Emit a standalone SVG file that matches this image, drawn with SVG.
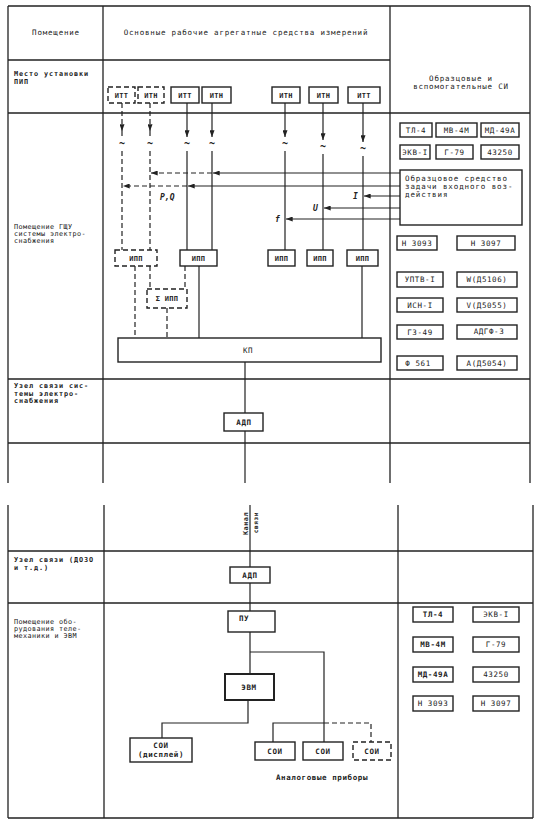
<svg xmlns="http://www.w3.org/2000/svg" width="540" height="826" viewBox="0 0 540 826">
<style>
.tb{stroke:#222;stroke-width:1.3;fill:none}
.ln{stroke:#222;stroke-width:1.2;fill:none}
.dl{stroke:#222;stroke-width:1.2;fill:none;stroke-dasharray:5 3}
.bx{fill:#fff;stroke:#222;stroke-width:1.4}
.bxb{fill:#fff;stroke:#222;stroke-width:2}
.dbx{fill:#fff;stroke:#222;stroke-width:1.4;stroke-dasharray:5 3}
text{font-family:"DejaVu Sans Mono","Liberation Mono",monospace;fill:#222}
.h{font-size:7.5px;letter-spacing:0.8px}
.lb{font-size:6.8px;letter-spacing:0.9px;font-weight:bold}
.lr{font-size:6.8px;letter-spacing:0.4px}
.bt{font-size:7px;letter-spacing:0.3px;text-anchor:middle;font-weight:bold}
.rt{font-size:7.5px;letter-spacing:0.6px;text-anchor:middle}
.c{text-anchor:middle}
.it{font-size:8px;font-style:italic;font-weight:bold}
.tl{font-size:10px;font-weight:bold;text-anchor:middle}
</style>
<defs>
<marker id="ah" viewBox="0 0 8 6" refX="8" refY="3" markerWidth="7" markerHeight="5" markerUnits="userSpaceOnUse" orient="auto">
<path d="M0,0 L8,3 L0,6 z" fill="#222"/>
</marker>
</defs>
<rect width="540" height="826" fill="#fff"/>

<g id="table">
<path class="tb" d="M8,6 H530 M8,6 V483 M103,6 V483 M390,6 V483 M530,6 V483 M8,60 H390 M8,113 H530 M8,379 H530 M8,443 H530"/>
<path class="tb" d="M8,505 V818 M104,505 V818 M398,505 V818 M533,505 V818 M8,551 H533 M8,603 H533 M8,818 H533"/>
<text class="h c" x="56" y="35">Помещение</text>
<text class="h c" x="246" y="35">Основные рабочие агрегатные средства измерений</text>
<text class="h c" x="461" y="81">Образцовые и</text>
<text class="h c" x="461" y="89">вспомогательные СИ</text>
<text class="lb" x="14" y="76">Место установки</text>
<text class="lb" x="14" y="83.5">ПИП</text>
<text class="lr" x="14" y="229">Помещение ГЩУ</text>
<text class="lr" x="14" y="236">системы электро-</text>
<text class="lr" x="14" y="243">снабжения</text>
<text class="lb" x="14" y="388">Узел связи сис-</text>
<text class="lb" x="14" y="395.5">темы электро-</text>
<text class="lb" x="14" y="403">снабжения</text>
<text class="lb" x="14" y="562">Узел связи (ДОЗО</text>
<text class="lb" x="14" y="569.5">и т.д.)</text>
<text class="lr" x="14" y="624">Помещение обо-</text>
<text class="lr" x="14" y="631">рудования теле-</text>
<text class="lr" x="14" y="638">механики и ЭВМ</text>
</g>

<g id="connectors">
<path class="dl" d="M122,103 V131" marker-end="url(#ah)"/>
<path class="dl" d="M150,103 V131" marker-end="url(#ah)"/>
<path class="ln" d="M187,103 V137" marker-end="url(#ah)"/>
<path class="ln" d="M212,103 V137" marker-end="url(#ah)"/>
<path class="ln" d="M285,103 V137" marker-end="url(#ah)"/>
<path class="ln" d="M323,103 V140" marker-end="url(#ah)"/>
<path class="ln" d="M363,103 V142" marker-end="url(#ah)"/>
<path class="dl" d="M122,131 V137 M150,131 V137"/>
<text class="tl" x="122" y="147">~</text>
<text class="tl" x="150" y="147">~</text>
<text class="tl" x="187" y="147">~</text>
<text class="tl" x="212" y="147">~</text>
<text class="tl" x="285" y="147">~</text>
<text class="tl" x="323" y="150">~</text>
<text class="tl" x="363" y="152">~</text>
<path class="dl" d="M122,151 V250 M150,151 V250"/>
<path class="ln" d="M187,151 V250 M212,151 V250 M285,151 V250 M323,154 V250 M363,156 V250"/>
<path class="ln" d="M400,173 H213" marker-end="url(#ah)"/>
<path class="dl" d="M212,173 H151" marker-end="url(#ah)"/>
<path class="ln" d="M400,186 H188" marker-end="url(#ah)"/>
<path class="dl" d="M187,186 H123" marker-end="url(#ah)"/>
<path class="ln" d="M400,196 H364" marker-end="url(#ah)"/>
<path class="ln" d="M400,208 H324" marker-end="url(#ah)"/>
<path class="ln" d="M400,219 H286" marker-end="url(#ah)"/>
<text class="it" x="160" y="200">P,Q</text>
<text class="it" x="353" y="199">I</text>
<text class="it" x="313" y="211">U</text>
<text class="it" x="275" y="222">f</text>
<path class="dl" d="M135,266 V338 M150,266 V289 M185,266 V289 M167,308 V338"/>
<path class="ln" d="M199,266 V338 M362,266 V338"/>
<path class="ln" d="M245,362 V413 M245,431 V483"/>
<path class="ln" d="M250,505 V567 M250,583 V611 M250,632 V674"/>
<path class="ln" d="M250,652 H324 V742 M273,742 V723 H324"/>
<path class="dl" d="M324,723 H371 V742"/>
<path class="ln" d="M248,700 V723 H162 V738"/>
<text class="lb" transform="translate(247.5,512) rotate(-90)" text-anchor="end" style="letter-spacing:0.5px">Канал</text>
<text class="lb" transform="translate(258,512) rotate(-90)" text-anchor="end" style="font-size:6.2px;letter-spacing:0.5px">связи</text>
</g>

<g id="n-itt1"><rect class="dbx" x="108" y="87" width="27" height="16"/><text class="bt" x="121.5" y="98">ИТТ</text></g>
<g id="n-itn1"><rect class="dbx" x="138" y="87" width="26" height="16"/><text class="bt" x="151" y="98">ИТН</text></g>
<g id="n-itt2"><rect class="bx" x="171" y="87" width="28" height="16"/><text class="bt" x="185" y="98">ИТТ</text></g>
<g id="n-itn2"><rect class="bx" x="202" y="87" width="29" height="16"/><text class="bt" x="216.5" y="98">ИТН</text></g>
<g id="n-itn3"><rect class="bx" x="272" y="87" width="28" height="16"/><text class="bt" x="286" y="98">ИТН</text></g>
<g id="n-itn4"><rect class="bx" x="309" y="87" width="29" height="16"/><text class="bt" x="323.5" y="98">ИТН</text></g>
<g id="n-itt3"><rect class="bx" x="348" y="87" width="32" height="16"/><text class="bt" x="364" y="98">ИТТ</text></g>

<g id="n-src"><rect class="bx" x="400" y="170" width="122" height="55"/>
<text class="h" x="405" y="181" style="letter-spacing:0.9px">Образцовое средство</text>
<text class="h" x="405" y="189" style="letter-spacing:0.9px">задачи входного воз-</text>
<text class="h" x="405" y="197" style="letter-spacing:0.9px">действия</text></g>

<g id="n-ipp1"><rect class="dbx" x="115" y="250" width="42" height="16"/><text class="bt" x="136" y="261">ИПП</text></g>
<g id="n-ipp2"><rect class="bx" x="180" y="250" width="37" height="16"/><text class="bt" x="198.5" y="261">ИПП</text></g>
<g id="n-ipp3"><rect class="bx" x="268" y="250" width="27" height="16"/><text class="bt" x="281.5" y="261">ИПП</text></g>
<g id="n-ipp4"><rect class="bx" x="307" y="250" width="26" height="16"/><text class="bt" x="320" y="261">ИПП</text></g>
<g id="n-ipp5"><rect class="bx" x="347" y="250" width="31" height="16"/><text class="bt" x="362.5" y="261">ИПП</text></g>
<g id="n-sipp"><rect class="dbx" x="147" y="289" width="40" height="19"/><text class="bt" x="167" y="301">Σ ИПП</text></g>
<g id="n-kp"><rect class="bx" x="118" y="338" width="263" height="24"/><text class="rt" x="248" y="353">КП</text></g>
<g id="n-adp1"><rect class="bx" x="224" y="413" width="39" height="18"/><text class="rt" x="244" y="425" style="font-weight:bold">АДП</text></g>

<g id="n-r1"><rect class="bx" x="400" y="123" width="32" height="14"/><text class="rt" x="416" y="133">ТЛ-4</text></g>
<g id="n-r2"><rect class="bx" x="436" y="123" width="41" height="14"/><text class="rt" x="456.5" y="133">МВ-4М</text></g>
<g id="n-r3"><rect class="bx" x="481" y="123" width="38" height="14"/><text class="rt" x="500" y="133">МД-49А</text></g>
<g id="n-r4"><rect class="bx" x="400" y="145" width="30" height="14"/><text class="rt" x="415" y="155">ЭКВ-I</text></g>
<g id="n-r5"><rect class="bx" x="436" y="145" width="37" height="14"/><text class="rt" x="454.5" y="155">Г-79</text></g>
<g id="n-r6"><rect class="bx" x="481" y="145" width="38" height="14"/><text class="rt" x="500" y="155">43250</text></g>
<g id="n-r7"><rect class="bx" x="397" y="236" width="40" height="14"/><text class="rt" x="417" y="246">Н 3093</text></g>
<g id="n-r8"><rect class="bx" x="457" y="236" width="58" height="14"/><text class="rt" x="486" y="246">Н 3097</text></g>
<g id="n-r9"><rect class="bx" x="397" y="272" width="46" height="15"/><text class="rt" x="420" y="282">УПТВ-I</text></g>
<g id="n-r10"><rect class="bx" x="457" y="272" width="60" height="15"/><text class="rt" x="487" y="282">W(Д5106)</text></g>
<g id="n-r11"><rect class="bx" x="397" y="298" width="46" height="14"/><text class="rt" x="420" y="308">ИСН-I</text></g>
<g id="n-r12"><rect class="bx" x="457" y="298" width="60" height="14"/><text class="rt" x="487" y="308">V(Д5055)</text></g>
<g id="n-r13"><rect class="bx" x="397" y="325" width="46" height="14"/><text class="rt" x="420" y="335">ГЗ-49</text></g>
<g id="n-r14"><rect class="bx" x="457" y="325" width="60" height="14"/><text class="rt" x="489" y="334">АДГФ-3</text></g>
<g id="n-r15"><rect class="bx" x="397" y="356" width="46" height="14"/><text class="rt" x="418" y="366">Ф 561</text></g>
<g id="n-r16"><rect class="bx" x="457" y="356" width="60" height="14"/><text class="rt" x="487" y="366">A(Д5054)</text></g>

<g id="n-adp2"><rect class="bx" x="230" y="567" width="40" height="16"/><text class="rt" x="250" y="578" style="font-weight:bold">АДП</text></g>
<g id="n-pu"><rect class="bx" x="228" y="611" width="47" height="21"/><text class="rt" x="244" y="621" style="font-weight:bold">ПУ</text></g>
<g id="n-evm"><rect class="bxb" x="225" y="674" width="49" height="26"/><text class="rt" x="249" y="690" style="font-weight:bold">ЭВМ</text></g>
<g id="n-soi1"><rect class="bx" x="130" y="738" width="62" height="24"/><text class="rt" x="161" y="748" style="font-weight:bold">СОИ</text><text class="rt" x="161" y="757" style="font-weight:bold">(дисплей)</text></g>
<g id="n-soi2"><rect class="bx" x="255" y="742" width="40" height="18"/><text class="rt" x="275" y="754" style="font-weight:bold">СОИ</text></g>
<g id="n-soi3"><rect class="bx" x="303" y="742" width="40" height="18"/><text class="rt" x="323" y="754" style="font-weight:bold">СОИ</text></g>
<g id="n-soi4"><rect class="dbx" x="353" y="742" width="38" height="18"/><text class="rt" x="372" y="754" style="font-weight:bold">СОИ</text></g>
<text class="rt" x="322" y="780" style="font-weight:bold">Аналоговые приборы</text>

<g id="n-b1"><rect class="bx" x="413" y="607" width="40" height="15"/><text class="rt" x="433" y="617" style="font-weight:bold">ТЛ-4</text></g>
<g id="n-b2"><rect class="bx" x="473" y="607" width="46" height="15"/><text class="rt" x="496" y="617">ЭКВ-I</text></g>
<g id="n-b3"><rect class="bx" x="413" y="637" width="40" height="15"/><text class="rt" x="433" y="647" style="font-weight:bold">МВ-4М</text></g>
<g id="n-b4"><rect class="bx" x="473" y="637" width="46" height="15"/><text class="rt" x="496" y="647">Г-79</text></g>
<g id="n-b5"><rect class="bx" x="413" y="667" width="40" height="15"/><text class="rt" x="433" y="677" style="font-weight:bold">МД-49А</text></g>
<g id="n-b6"><rect class="bx" x="473" y="667" width="46" height="15"/><text class="rt" x="496" y="677">43250</text></g>
<g id="n-b7"><rect class="bx" x="413" y="696" width="40" height="15"/><text class="rt" x="433" y="706">Н 3093</text></g>
<g id="n-b8"><rect class="bx" x="473" y="696" width="46" height="15"/><text class="rt" x="496" y="706">Н 3097</text></g>
</svg>
